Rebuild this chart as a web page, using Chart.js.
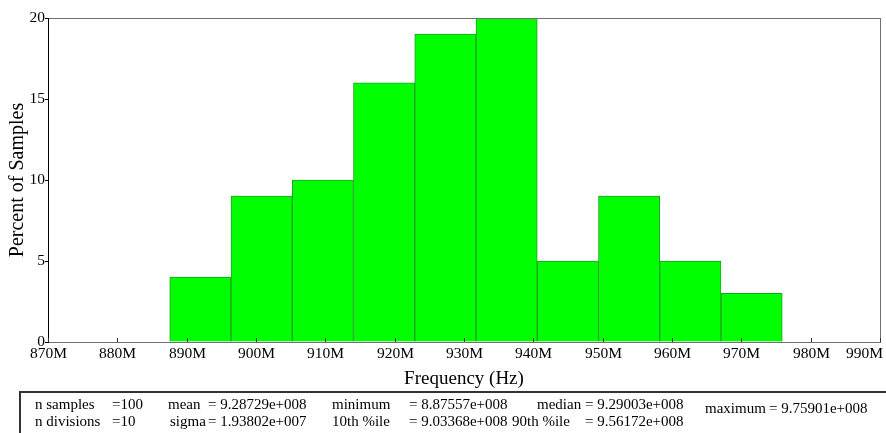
<!DOCTYPE html>
<html>
<head>
<meta charset="utf-8">
<script src="https://cdn.jsdelivr.net/npm/chart.js@4"></script>
<style>
  html, body { margin: 0; padding: 0; background: #fff; }
  body { width: 886px; height: 433px; position: relative; overflow: hidden; font-family: "Liberation Serif", "Times New Roman", serif; }
  #histo { position: absolute; left: 0; top: 0; }
  .stats-box { position: absolute; left: 19px; top: 391px; width: 880px; height: 60px; border-top: 2px solid #333; border-left: 2px solid #333; }
  .stat { position: absolute; font-size: 15px; line-height: 16px; color: #000; white-space: nowrap; }
</style>
</head>
<body>
<canvas id="histo" width="886" height="392"></canvas>
<div class="stats-box"></div>
<div id="stats"></div>
<script>
// histogram data (percent of samples per bin), frequency in MHz
const percents = [4, 9, 10, 16, 19, 20, 5, 9, 5, 3];
const freqMin = 887.557;
const freqMax = 975.901;
const xTicks = [870, 880, 890, 900, 910, 920, 930, 940, 950, 960, 970, 980, 990];
const yTicks = [0, 5, 10, 15, 20];

// summary statistics shown under the plot
const statNames = ["n samples", "n divisions", "mean", "sigma", "minimum", "10th %ile", "median", "90th %ile", "maximum"];
const statValues = ["=100", "=10", "= 9.28729e+008", "= 1.93802e+007", "= 8.87557e+008", "= 9.03368e+008", "= 9.29003e+008", "= 9.56172e+008", "= 9.75901e+008"];

// where each stat name / value sits (px)
const statLayout = [
  { nx: 35, vx: 112, y: 404 },
  { nx: 35, vx: 112, y: 421 },
  { nx: 168, vx: 208, y: 404 },
  { nx: 170, vx: 208, y: 421 },
  { nx: 332, vx: 409, y: 404 },
  { nx: 332, vx: 409, y: 421 },
  { nx: 537, vx: 585, y: 404 },
  { nx: 512, vx: 585, y: 421 },
  { nx: 705, vx: 769, y: 408 }
];

const binWidth = (freqMax - freqMin) / percents.length;
const bins = percents.map((p, i) => ({ x: freqMin + (i + 0.5) * binWidth, y: p }));

const serif = "'Liberation Serif', 'Times New Roman', serif";

const framePlugin = {
  id: "frame",
  afterDatasetsDraw(chart) {
    const { ctx, chartArea: a, scales } = chart;
    ctx.save();
    ctx.lineWidth = 1;
    ctx.strokeStyle = "#707070";
    ctx.beginPath();
    ctx.moveTo(a.left, a.top + 0.5); ctx.lineTo(a.right, a.top + 0.5);
    ctx.moveTo(a.right + 0.5, a.top); ctx.lineTo(a.right + 0.5, a.bottom);
    ctx.moveTo(a.left, a.bottom + 0.5); ctx.lineTo(a.right + 1, a.bottom + 0.5);
    ctx.stroke();
    ctx.strokeStyle = "#000";
    ctx.beginPath();
    ctx.moveTo(a.left + 0.5, a.top); ctx.lineTo(a.left + 0.5, a.bottom + 1);
    ctx.stroke();

    // x ticks point into the plot, labels below
    ctx.strokeStyle = "#333";
    ctx.fillStyle = "#000";
    ctx.font = "15.5px " + serif;
    ctx.textAlign = "center";
    ctx.textBaseline = "middle";
    xTicks.forEach((v) => {
      const px = Math.round(scales.x.getPixelForValue(v)) + 0.5;
      ctx.beginPath();
      ctx.moveTo(px, a.bottom); ctx.lineTo(px, a.bottom - 4);
      ctx.stroke();
      const label = v + "M";
      const w = ctx.measureText(label).width;
      const cx = Math.min(px, chart.width - 3 - w / 2);
      ctx.fillText(label, cx, a.bottom + 12);
    });

    ctx.font = "19px " + serif;
    ctx.fillText("Frequency (Hz)", (a.left + a.right) / 2, 379);
    ctx.restore();
  }
};

new Chart(document.getElementById("histo"), {
  type: "bar",
  data: {
    datasets: [{
      data: bins,
      backgroundColor: "#00FF00",
      borderColor: "#22A022",
      borderWidth: 1,
      barPercentage: 1,
      categoryPercentage: 1
    }]
  },
  options: {
    responsive: false,
    animation: false,
    layout: { padding: { top: 18, right: 6, left: 0, bottom: 0 } },
    plugins: { legend: { display: false }, tooltip: { enabled: false } },
    scales: {
      x: {
        type: "linear",
        min: 870,
        max: 990,
        offset: false,
        ticks: { display: false, stepSize: 10 },
        grid: { display: false, offset: false },
        border: { display: false },
        afterFit: (s) => { s.height = 50; }
      },
      y: {
        min: 0,
        max: 20,
        afterBuildTicks: (s) => { s.ticks = yTicks.map((v) => ({ value: v })); },
        ticks: { color: "#000", padding: 0, font: { family: serif, size: 15.5 } },
        grid: { display: true, drawOnChartArea: false, drawTicks: true, tickLength: 3, color: "#000" },
        border: { display: false },
        title: { display: true, text: "Percent of Samples", color: "#000", padding: { top: 6, bottom: 0 }, font: { family: serif, size: 20 } },
        afterFit: (s) => { s.width = 48; }
      }
    }
  },
  plugins: [framePlugin]
});

const statsEl = document.getElementById("stats");
statNames.forEach((name, i) => {
  const pos = statLayout[i];
  const n = document.createElement("span");
  n.className = "stat";
  n.textContent = name;
  n.style.left = pos.nx + "px";
  n.style.top = (pos.y - 8) + "px";
  statsEl.appendChild(n);
  const v = document.createElement("span");
  v.className = "stat";
  v.textContent = statValues[i];
  v.style.left = pos.vx + "px";
  v.style.top = (pos.y - 8) + "px";
  statsEl.appendChild(v);
});
</script>
</body>
</html>
